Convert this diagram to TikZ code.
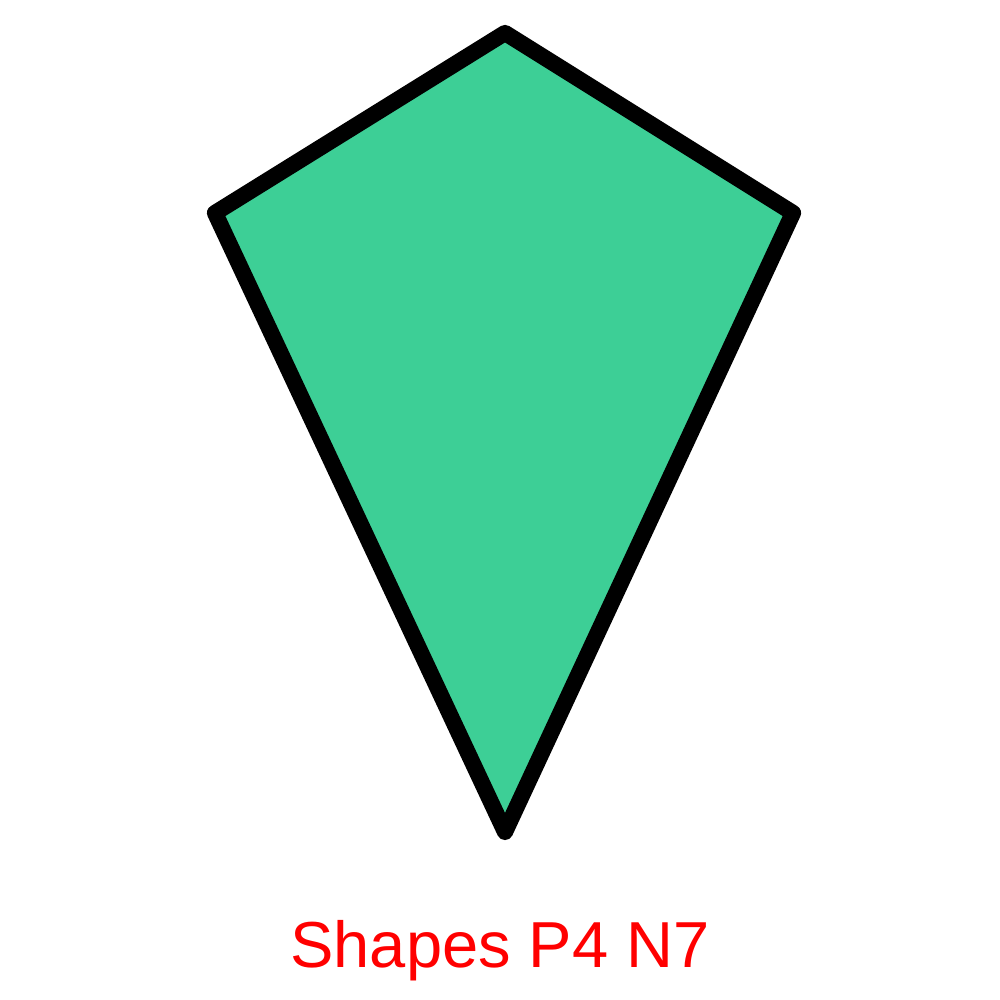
\documentclass[tikz,border=0pt]{standalone}
\usepackage{fontspec}
\setmainfont{Liberation Sans}
\definecolor{kitefill}{HTML}{3DCF96}
\definecolor{labelred}{HTML}{FF0000}
\begin{document}
\begin{tikzpicture}[
  kite/.style={draw=black, fill=kitefill, line width=4.6pt, line join=round},
  caption/.style={text=labelred, font=\fontsize{18.5pt}{22pt}\selectfont, anchor=base, inner sep=0pt}
]
\useasboundingbox (0,0) rectangle (10,10);
\coordinate (top) at (5.05,9.67);
\coordinate (left) at (2.15,7.87);
\coordinate (right) at (7.93,7.87);
\coordinate (bottom) at (5.05,1.68);
\draw[kite] (top) -- (right) -- (bottom) -- (left) -- cycle;
\node[caption] (label) at (5.0,0.32) {Shapes P4 N7};
\end{tikzpicture}
\end{document}
